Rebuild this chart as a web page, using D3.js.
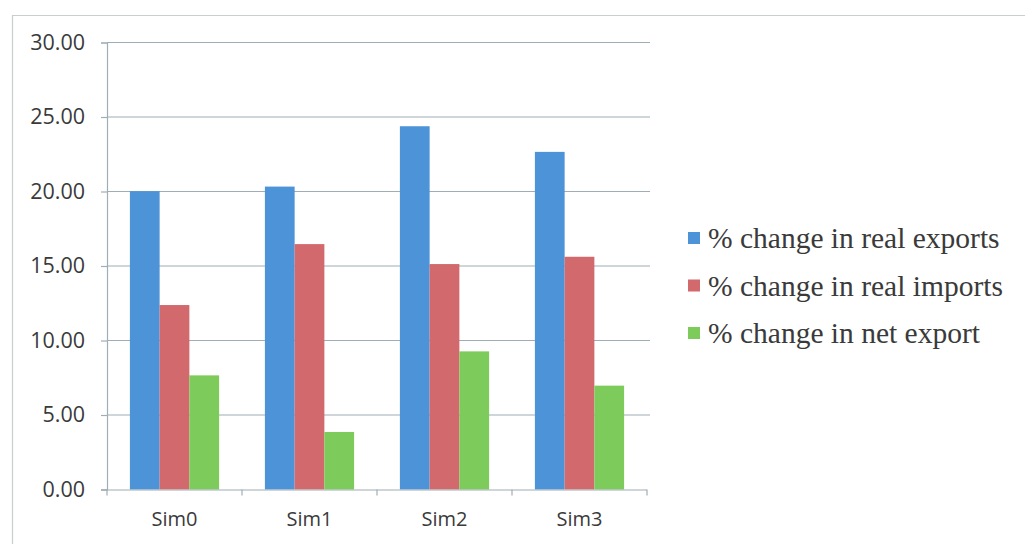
<!DOCTYPE html>
<html><head><meta charset="utf-8">
<script src="https://cdn.jsdelivr.net/npm/d3@7"></script>
<style>body{margin:0;background:#fff}svg{display:block}</style>
</head><body>
<svg id="c" width="1025" height="544"></svg>
<script>
const categories = ["Sim0","Sim1","Sim2","Sim3"];
const seriesNames = ["% change in real exports","% change in real imports","% change in net export"];
const realExports = [20.02, 20.33, 24.38, 22.66];
const realImports = [12.38, 16.47, 15.13, 15.62];
const netExport   = [7.66, 3.86, 9.27, 6.97];
const yTicks = [0,5,10,15,20,25,30];
const colors = ["#4c93d8","#d2696d","#7dcb5b"];

const series = [realExports, realImports, netExport];
const svg = d3.select("#c");
const L = 107, R = 647, T = 42.5, B = 489.5;

// outer border
svg.append("path").attr("d","M12.5,544 V15.5 H1025").attr("fill","none").attr("stroke","#c8cdd0").attr("stroke-width",1.2);

const x = d3.scaleBand().domain(categories).range([L,R]).paddingInner(0).paddingOuter(0);
const y = d3.scaleLinear().domain([0,30]).range([B,T]);
const inner = d3.scaleBand().domain(d3.range(3)).range([0, x.bandwidth()]).paddingInner(0).paddingOuter(0.77);

// gridlines
svg.append("g").selectAll("line").data(yTicks.filter(d=>d>0)).join("line")
  .attr("x1",L).attr("x2",R+3).attr("y1",d=>y(d)).attr("y2",d=>y(d))
  .attr("stroke","#9fadb5").attr("stroke-width",1.2);

// bars
const groups = svg.append("g").selectAll("g").data(categories).join("g")
  .attr("transform",c=>`translate(${x(c)},0)`);
groups.selectAll("rect").data((c,i)=>series.map((s,k)=>({k,v:s[i]}))).join("rect")
  .attr("x",d=>inner(d.k)).attr("width",inner.bandwidth())
  .attr("y",d=>y(d.v)).attr("height",d=>B-y(d.v))
  .attr("fill",d=>colors[d.k]);

// y axis
const yAxis = d3.axisLeft(y).tickValues(yTicks).tickFormat(d3.format(".2f")).tickSize(6).tickPadding(16);
const ya = svg.append("g").attr("transform",`translate(${L},0)`).call(yAxis);
ya.select(".domain").attr("stroke","#9fadb5").attr("stroke-width",1.2);
ya.selectAll(".tick line").attr("stroke","#9fadb5").attr("stroke-width",1.2);
ya.selectAll("text").attr("font-family","Open Sans, sans-serif").attr("font-size",21.5).attr("fill","#3a3a3a");

// x axis
const xa = svg.append("g").attr("transform",`translate(0,${B})`)
  .call(d3.axisBottom(x).tickSize(0).tickPadding(22));
xa.select(".domain").attr("stroke","#9fadb5").attr("stroke-width",1.2).attr("d",`M${L-6},0.5H${R}`);
xa.selectAll("text").attr("font-family","Open Sans, sans-serif").attr("font-size",20).attr("fill","#3a3a3a");
svg.append("g").selectAll("line").data(d3.range(categories.length+1)).join("line")
  .attr("x1",i=>L+i*x.bandwidth()).attr("x2",i=>L+i*x.bandwidth())
  .attr("y1",B).attr("y2",B+6).attr("stroke","#9fadb5").attr("stroke-width",1.2);

// legend
const lg = svg.append("g").selectAll("g").data(seriesNames).join("g")
  .attr("transform",(d,i)=>`translate(688,${238+i*47.5})`);
lg.append("rect").attr("x",0).attr("y",-6).attr("width",12).attr("height",12).attr("fill",(d,i)=>colors[i]);
lg.append("text").attr("x",20).attr("y",0).attr("dy","0.35em").text(d=>d)
  .attr("font-family","Liberation Serif, Times New Roman, serif").attr("font-size",29.5).attr("fill","#3a3a3a");
</script>
</body></html>
